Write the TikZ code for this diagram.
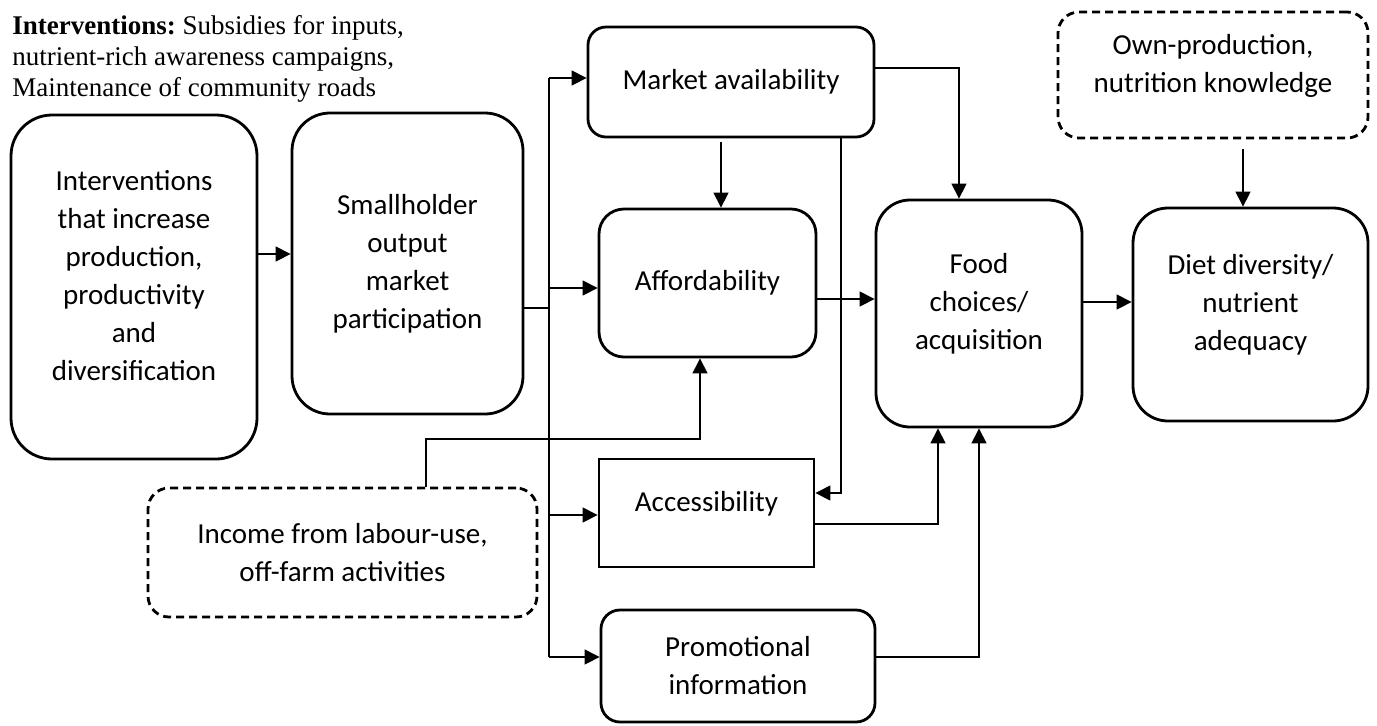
\documentclass[tikz,border=0pt]{standalone}
\usepackage{fontspec}
\setmainfont{Liberation Serif}
\newfontfamily\carlito{Carlito}
\usetikzlibrary{arrows.meta}

% empty last line, pushes the text a little above the middle of its box
\newcommand\lastgap{\\[-7pt]\mbox{}}

\begin{document}
\begin{tikzpicture}[x=0.5pt, y=-0.5pt,
    box/.style={draw, line width=1.4pt, rounded corners=#1, align=center,
	inner sep=0pt, font=\carlito\fontsize{14.5}{19}\selectfont},
    box/.default=10pt,
    dbox/.style={box=10.5pt, dash pattern=on 4pt off 2.5pt},
    link/.style={line width=0.6pt},
    arr/.style={link, -{Triangle[length=7.5pt,width=7.5pt]}}]
    \useasboundingbox (0,0) rectangle (1377,725);

    \node[anchor=north west, align=left, inner sep=0pt,
	font=\fontsize{13.5}{15.5}\selectfont] (note) at (12,15)
	{\textbf{Interventions:}\ Subsidies for inputs,\\
	nutrient-rich awareness campaigns,\\
	Maintenance of community roads};

    % boxes
    \node[box=20.5pt, minimum width=123pt, minimum height=172pt] (inter) at (134,287)
	{Interventions\\that increase\\production,\\productivity\\and\\diversification\lastgap};
    \node[box=19pt, minimum width=115.5pt, minimum height=150.5pt] (small) at (407.5,263.5)
	{Smallholder\\output\\market\\participation};
    \node[box=9pt, minimum width=143pt, minimum height=55pt] (avail) at (731,82)
	{Market availability};
    \node[box=12.5pt, minimum width=108.5pt, minimum height=74pt] (afford) at (707.5,283)
	{Affordability};
    \node[box=0pt, minimum width=107.5pt, minimum height=54pt] (access) at (706.5,513)
	{Accessibility\lastgap};
    \node[box=9.5pt, minimum width=137pt, minimum height=56pt] (promo) at (738,666)
	{Promotional\\information};
    \node[box=17pt, minimum width=103pt, minimum height=113.5pt] (food) at (979,313.5)
	{Food\\choices/\\acquisition\lastgap};
    \node[box=17.5pt, minimum width=117.5pt, minimum height=106.5pt] (diet) at (1250.5,314.5)
	{Diet diversity/\\nutrient\\adequacy\lastgap};
    \node[dbox, minimum width=155pt, minimum height=63pt] (own) at (1213,75)
	{Own-production,\\nutrition knowledge\lastgap};
    \node[dbox, minimum width=194.5pt, minimum height=64.5pt] (income) at (342.5,552.5)
	{Income from labour-use,\\off-farm activities};

    % links
    \draw[arr] (inter.east |- 0,254) -- (small.west |- 0,254);
    \coordinate (bus) at (549,0);
    \draw[link] (small.east |- 0,308) -- (bus |- 0,308);
    \draw[link] (bus |- 0,78) -- (bus |- 0,657);
    \draw[arr] (bus |- 0,78) -- (avail.west |- 0,78);
    \draw[arr] (bus |- 0,288) -- (afford.west |- 0,288);
    \draw[arr] (bus |- 0,515) -- (access.west |- 0,515);
    \draw[arr] (bus |- 0,657) -- (promo.west |- 0,657);

    \draw[arr, shorten <=2pt] (avail.south -| 721,0) -- (afford.north -| 721,0);
    \draw[arr] (avail.east |- 0,68) -| (food.north -| 959,0);
    \draw[arr] (avail.south -| 841,0) |- (access.east |- 0,493);
    \draw[arr] (income.north -| 426,0) -- (426,439) -| (afford.south -| 700,0);

    \draw[arr] (afford.east |- 0,299) -- (food.west |- 0,299);
    \draw[arr] (access.east |- 0,524) -| (food.south -| 938,0);
    \draw[arr] (promo.east |- 0,657) -| (food.south);
    \draw[arr] (food.east |- 0,302) -- (diet.west |- 0,302);
    \draw[arr, shorten <=5pt] (own.south -| 1243,0) -- (diet.north -| 1243,0);
\end{tikzpicture}
\end{document}
